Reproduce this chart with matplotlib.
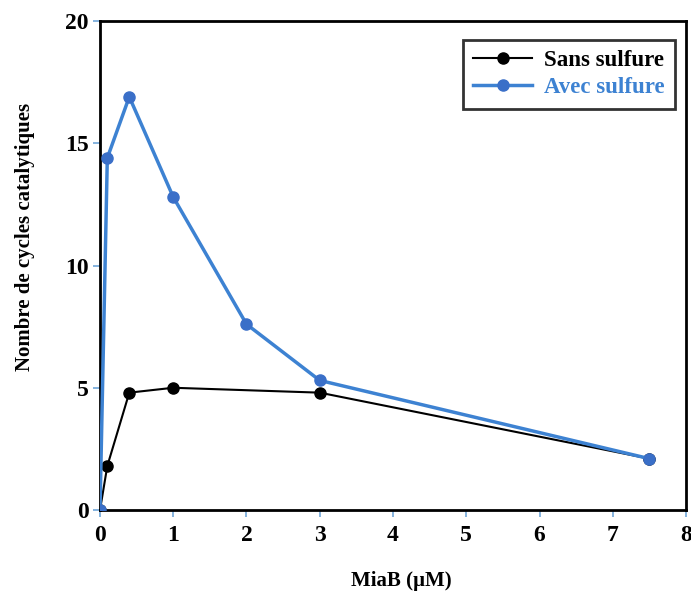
#MiaB catalytic cycles graph
#plots number of catalytic cycles vs MiaB concentration

import matplotlib.pyplot as plt

#data
x_sans = [0, 0.1, 0.4, 1, 3, 7.5]
y_sans = [0, 1.8, 4.8, 5.0, 4.8, 2.1]

x_avec = [0, 0.1, 0.4, 1, 2, 3, 7.5]
y_avec = [0, 14.4, 16.9, 12.8, 7.6, 5.3, 2.1]

xticks = [0, 1, 2, 3, 4, 5, 6, 7, 8]
yticks = [0, 5, 10, 15, 20]

blue = '#3d82d2'
tickcol = '#6fa6d8'

plt.rcParams['font.family'] = ['Liberation Serif', 'DejaVu Serif']
plt.rcParams['font.weight'] = 'bold'

fig = plt.figure(figsize=(6.91, 5.94), dpi=100)
ax = fig.add_axes([0.1447, 0.1414, 0.8481, 0.8232])

ax.plot(x_sans, y_sans, color='black', lw=1.5, marker='o', markersize=8, label='Sans sulfure', zorder=3)
ax.plot(x_avec, y_avec, color=blue, lw=2.5, marker='o', markersize=8,
        markerfacecolor='#3a6fc8', markeredgecolor='#3a6fc8', label='Avec sulfure', zorder=4)

ax.set_xlim(0, 8)
ax.set_ylim(0, 20)
ax.set_xticks(xticks)
ax.set_yticks(yticks)
ax.tick_params(direction='out', length=5, width=1.2, color=tickcol, labelsize=17)
ax.tick_params(axis='x', pad=6)
ax.tick_params(axis='y', pad=3)

for s in ax.spines.values():
    s.set_linewidth(2)
    s.set_color('black')

ax.set_xlabel('MiaB (µM)', fontsize=15, fontweight='bold')
ax.set_ylabel('Nombre de cycles catalytiques', fontsize=15, fontweight='bold')
ax.xaxis.set_label_coords(0.515, -0.125)
ax.yaxis.set_label_coords(-0.111, 0.558)

leg = ax.legend(loc='upper right', fontsize=16.5, frameon=True, fancybox=False,
                edgecolor='black', handlelength=2.6, borderpad=0.45, labelspacing=0.25,
                handletextpad=0.5, borderaxespad=0, bbox_to_anchor=(0.981, 0.961))
leg.get_frame().set_linewidth(2)
leg.get_texts()[1].set_color(blue)
for t in leg.get_texts():
    t.set_fontweight('bold')

fig.savefig('out.png', dpi=100)
